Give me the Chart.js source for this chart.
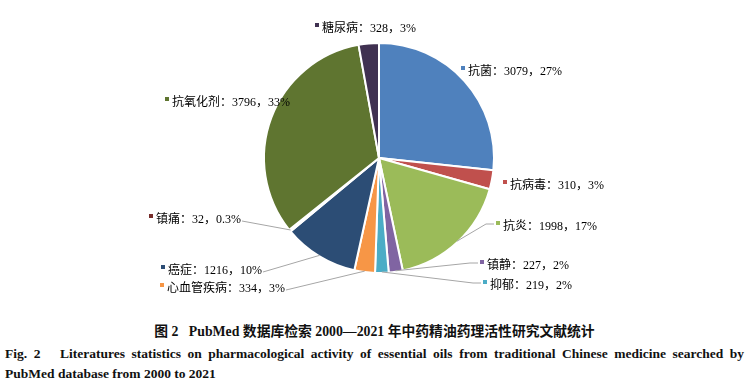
<!DOCTYPE html>
<html>
<head>
<meta charset="utf-8">
<script src="https://cdn.jsdelivr.net/npm/chart.js@4/dist/chart.umd.min.js"></script>
<style>
  html, body { margin: 0; padding: 0; background: #fff; width: 749px; height: 391px; overflow: hidden; }
  #wrap { position: relative; width: 749px; height: 391px; }
  #c { position: absolute; left: 0; top: 0; }
  .cap { position: absolute; font-family: 'Liberation Serif', 'Noto Sans CJK SC', serif; font-weight: bold; color: #111; white-space: nowrap; }
  #cn { left: 0; width: 749px; top: 320px; text-align: center; font-size: 13.8px; }
  #en1 { left: 5px; width: 739px; top: 346px; font-size: 13.5px; text-align: justify; text-align-last: justify; }
  #en2 { left: 5px; top: 366px; font-size: 13.5px; }
</style>
</head>
<body>
<div id="wrap">
  <canvas id="c" width="749" height="312"></canvas>
  <div class="cap" id="cn">图 2&nbsp;&nbsp;&nbsp;PubMed 数据库检索 2000—2021 年中药精油药理活性研究文献统计</div>
  <div class="cap" id="en1">Fig. 2&nbsp;&nbsp;&nbsp;Literatures statistics on pharmacological activity of essential oils from traditional Chinese medicine searched by</div>
  <div class="cap" id="en2">PubMed database from 2000 to 2021</div>
</div>
<script>
// ---- data ----
const categories = ['抗菌', '抗病毒', '抗炎', '镇静', '抑郁', '心血管疾病', '癌症', '镇痛', '抗氧化剂', '糖尿病'];
const counts = [3079, 310, 1998, 227, 219, 334, 1216, 32, 3796, 328];
const percentLabels = ['27%', '3%', '17%', '2%', '2%', '3%', '10%', '0.3%', '33%', '3%'];

// ---- style / layout ----
const colors = ['#4F81BD', '#C0504D', '#9BBB59', '#8064A2', '#4BACC6', '#F79646', '#2C4D75', '#772C2A', '#5F7530', '#403151'];
// [text start x, text centre y, side, has leader]
const labelLayout = [
  [468, 71, 'R', false],
  [510, 185, 'R', false],
  [503, 226, 'R', true],
  [487, 265, 'R', true],
  [490, 285, 'R', true],
  [167, 288, 'L', true],
  [168, 270, 'L', true],
  [156, 219, 'L', true],
  [172, 102, 'L', false],
  [322, 28, 'R', false]
];
const labelFont = "12px 'Liberation Serif', 'Noto Sans CJK SC', serif";

const labelPlugin = {
  id: 'pieLabels',
  afterDatasetsDraw(chart) {
    const ctx = chart.ctx;
    const meta = chart.getDatasetMeta(0);
    ctx.save();
    ctx.font = labelFont;
    ctx.textBaseline = 'middle';
    ctx.textAlign = 'left';
    meta.data.forEach((arc, i) => {
      const p = arc.getProps(['x', 'y', 'startAngle', 'endAngle', 'outerRadius'], true);
      const mid = (p.startAngle + p.endAngle) / 2;
      const ex = p.x + Math.cos(mid) * (p.outerRadius - 1);
      const ey = p.y + Math.sin(mid) * (p.outerRadius - 1);
      const [tx, ty, side, leader] = labelLayout[i];
      const text = categories[i] + '：' + counts[i] + '，' + percentLabels[i];
      const w = ctx.measureText(text).width;
      // marker
      ctx.fillStyle = colors[i];
      ctx.fillRect(tx - 7, ty - 5, 4, 4);
      // text
      ctx.fillStyle = '#000';
      ctx.fillText(text, tx, ty + 1);
      if (leader) {
        ctx.strokeStyle = '#A6A6A6';
        ctx.lineWidth = 1;
        ctx.beginPath();
        if (side === 'R') {
          const ax = tx - 9;
          ctx.moveTo(ax, ty - 2);
          ctx.lineTo(ax - 8, ty - 2);
          ctx.lineTo(ex, ey);
        } else {
          const ax = tx + w + 1;
          ctx.moveTo(ax, ty + 2);
          ctx.lineTo(ex, ey);
        }
        ctx.stroke();
      }
    });
    ctx.restore();
  }
};

new Chart(document.getElementById('c'), {
  type: 'pie',
  data: {
    labels: categories,
    datasets: [{
      data: counts,
      backgroundColor: colors,
      borderColor: '#ffffff',
      borderWidth: 2
    }]
  },
  options: {
    responsive: false,
    animation: false,
    layout: { padding: { top: 42, bottom: 38, left: 200, right: 191 } },
    plugins: { legend: { display: false }, tooltip: { enabled: false } }
  },
  plugins: [labelPlugin]
});
</script>
</body>
</html>
